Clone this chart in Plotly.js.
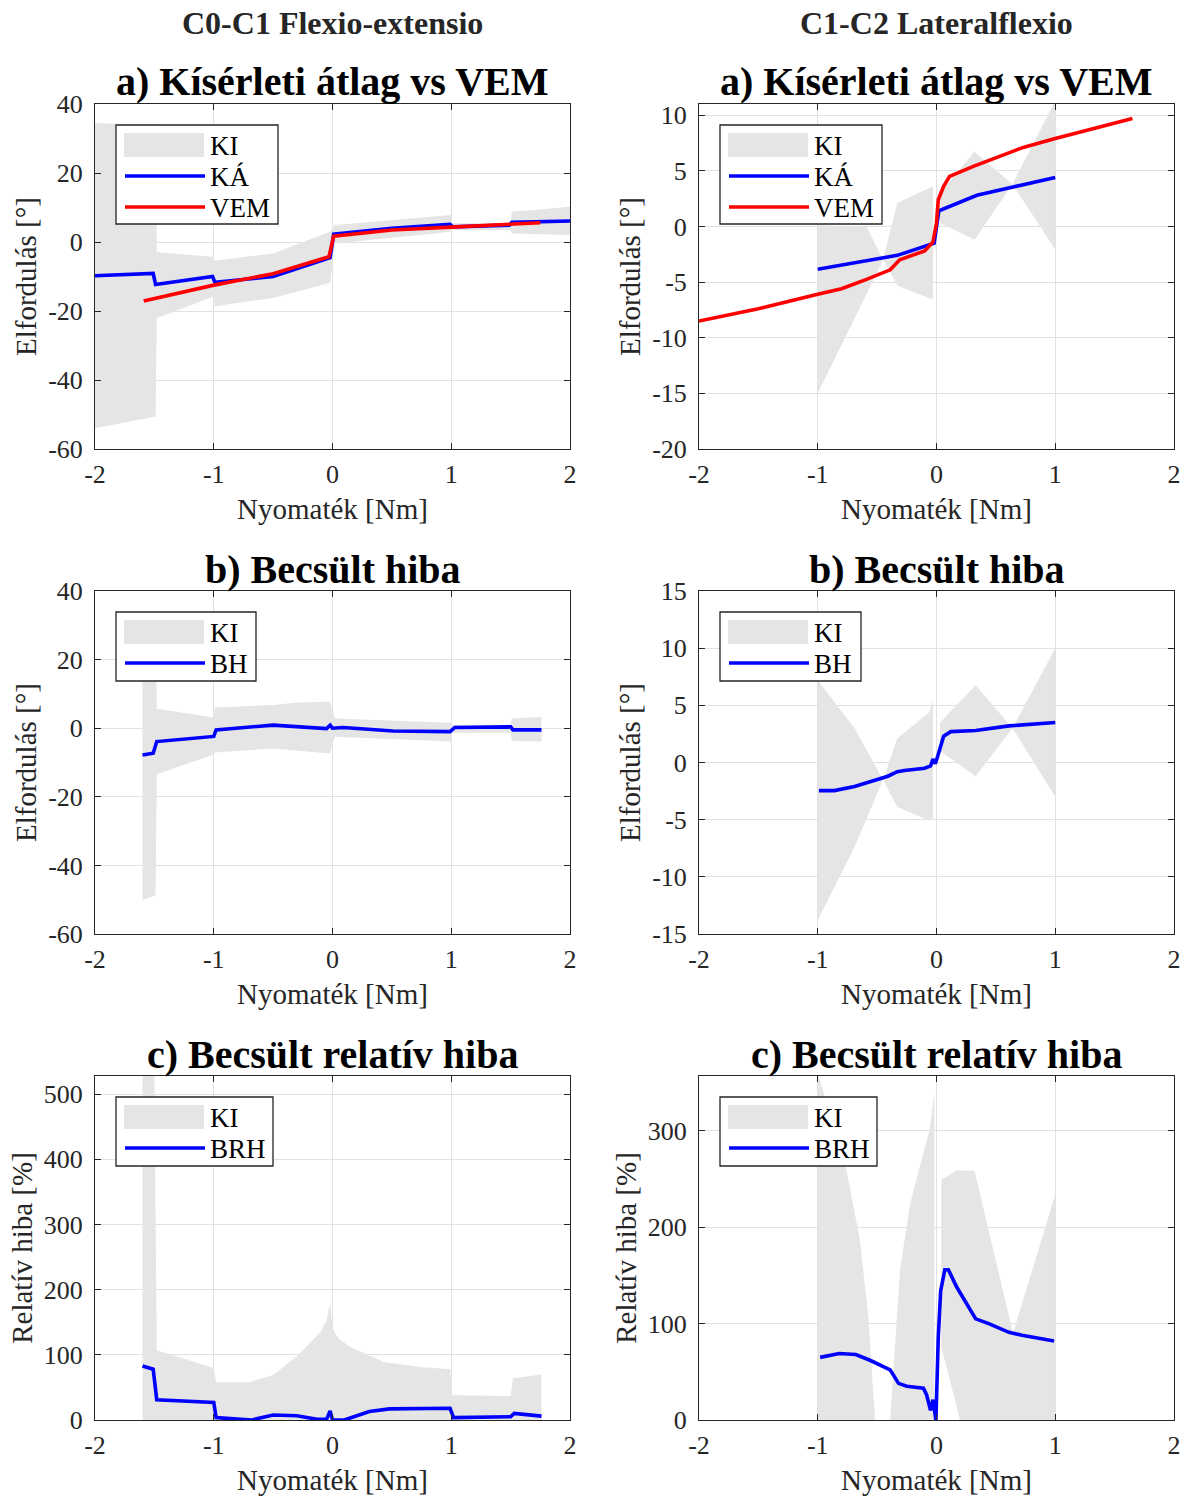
<!DOCTYPE html>
<html>
<head>
<meta charset="utf-8">
<script src="https://cdn.plot.ly/plotly-3.0.1.min.js"></script>
<style>html,body{margin:0;padding:0;background:#fff}#chart{width:1188px;height:1497px}</style>
</head>
<body>
<div id="chart"></div>
<script>
// ---------- DATA ----------
const xTickVals = [-2, -1, 0, 1, 2];
const xTickText = ['-2', '-1', '0', '1', '2'];

// Panel a) left : C0-C1 Flexio-extensio
const a1KiX  = [-2, -1.49, -1.48, -1.0, -0.99, -0.5, -0.02, 0.02, 1.0, 1.01, 1.5, 1.51, 2.0];
const a1KiUp = [34.4, 34, -3.0, -4.3, -5.4, -3.3, 3.0, 4.9, 7.8, 5.4, 5.4, 8.8, 10.2];
const a1KiLo = [-54, -50.6, -22.1, -15.8, -18.6, -16.2, -11.8, -0.4, 3.0, 3.5, 3.5, 2.5, 2.0];
const a1KaX  = [-2, -1.51, -1.49, -1.01, -0.99, -0.5, -0.02, 0.01, 0.5, 0.99, 1.01, 1.49, 1.51, 2.0];
const a1KaY  = [-9.8, -9.1, -12.3, -10.0, -11.7, -10.0, -4.5, 2.3, 4.0, 5.1, 4.4, 4.9, 5.7, 6.1];
const a1VemX = [-1.59, -1.0, -0.5, -0.03, 0.01, 0.5, 1.0, 1.75];
const a1VemY = [-17.1, -12.5, -9.2, -4.3, 1.7, 3.5, 4.3, 5.6];

// Panel a) right : C1-C2 Lateralflexio
const a2KiNegX  = [-1, -0.59, -0.45, -0.33, -0.03];
const a2KiNegUp = [0.1, 0.0, -3.0, 2.1, 3.6];
const a2KiNegLo = [-15, -6.1, -3.0, -5.3, -6.6];
const a2KiPosX  = [0.03, 0.32, 0.64, 1.0];
const a2KiPosUp = [3.0, 6.7, 3.8, 11.3];
const a2KiPosLo = [0.3, -1.2, 3.8, -2.1];
const a2KaX  = [-1, -0.33, -0.02, 0.02, 0.34, 1.0];
const a2KaY  = [-3.85, -2.6, -1.5, 1.4, 2.8, 4.4];
const a2VemX = [-2, -1.5, -1.0, -0.8, -0.6, -0.39, -0.31, -0.1, -0.03, 0.0, 0.015, 0.06, 0.11, 0.31, 0.73, 1.0, 1.65];
const a2VemY = [-8.5, -7.4, -6.1, -5.6, -4.8, -3.9, -3.0, -2.2, -1.4, 0.3, 2.4, 3.6, 4.5, 5.4, 7.1, 7.9, 9.7];

// Panel b) left
const b1KiX  = [-1.6, -1.49, -1.48, -1.0, -0.99, -0.5, -0.3, -0.02, 0.02, 1.0, 1.01, 1.5, 1.51, 1.76];
const b1KiUp = [30, 30, 5.7, 3.1, 6.0, 6.8, 7.5, 7.7, 2.8, 1.6, 1.0, 1.0, 2.8, 3.3];
const b1KiLo = [-50, -48.7, -13.4, -7.7, -7.1, -5.9, -6.5, -7.4, -2.5, -3.9, -1.3, -1.3, -3.7, -3.9];
const b1BhX  = [-1.6, -1.51, -1.48, -1.0, -0.98, -0.5, -0.05, -0.02, 0.0, 0.09, 0.51, 0.99, 1.03, 1.5, 1.52, 1.76];
const b1BhY  = [-7.8, -7.3, -3.9, -2.4, -0.5, 0.9, -0.1, 0.9, 0.0, 0.2, -0.8, -1.0, 0.2, 0.4, -0.5, -0.5];

// Panel b) right
const b2KiNegX  = [-1, -0.69, -0.45, -0.33, -0.06, -0.03];
const b2KiNegUp = [7.2, 3.0, -1.5, 2.1, 4.4, 5.4];
const b2KiNegLo = [-13.8, -7.4, -1.5, -3.9, -5.1, -4.9];
const b2KiPosX  = [0.03, 0.33, 0.64, 1.0];
const b2KiPosUp = [3.5, 6.75, 3.0, 10.0];
const b2KiPosLo = [1.0, -1.2, 3.0, -3.0];
const b2BhX = [-0.99, -0.86, -0.69, -0.5, -0.41, -0.33, -0.27, -0.1, -0.05, -0.03, -0.01, 0.0, 0.03, 0.06, 0.12, 0.33, 0.61, 1.0];
const b2BhY = [-2.46, -2.46, -2.1, -1.45, -1.2, -0.8, -0.7, -0.5, -0.3, 0.3, -0.1, 0.2, 1.3, 2.3, 2.7, 2.8, 3.2, 3.5];

// Panel c) left
const c1KiX  = [-1.6, -1.5, -1.48, -1.0, -0.98, -0.7, -0.5, -0.3, -0.19, -0.1, -0.05, -0.02, 0.0, 0.05, 0.15, 0.43, 0.76, 0.99, 1.01, 1.5, 1.52, 1.76];
const c1KiUp = [530, 530, 107, 80, 58, 58, 69, 98, 118, 135, 153, 179, 141, 125, 112, 89, 81, 78, 38, 37, 64, 70];
const c1KiLo = [0, 0, 0, 0, 0, 0, 0, 0, 0, 0, 0, 0, 0, 0, 0, 0, 0, 0, 0, 0, 0, 0];
const c1BrhX = [-1.6, -1.51, -1.48, -1.0, -0.98, -0.68, -0.5, -0.3, -0.13, -0.05, -0.02, 0.0, 0.1, 0.31, 0.48, 0.99, 1.02, 1.5, 1.53, 1.76];
const c1BrhY = [83, 78, 31, 27, 3.6, 0, 7.7, 6.6, 1, 1, 14, 0, 0, 13, 17, 18, 3.6, 5, 10, 6];

// Panel c) right
const c2KiNegX  = [-1, -0.756, -0.644, -0.574, -0.518, -0.39, -0.308, -0.223, -0.055, -0.018];
const c2KiNegUp = [360, 258, 186, 107, 0, -40, -60, -80, -110, -120];
const c2KiNegLo = [-200, -160, -140, -120, -100, 0, 155, 224, 303, 341];
const c2KiPosX  = [0.04, 0.08, 0.165, 0.198, 0.32, 0.644, 1.0];
const c2KiPosUp = [250, 252, 259, 259, 259, 90, 234];
const c2KiPosLo = [76, 57, 16, 0, -40, -120, -200];
const c2BrhX = [-0.98, -0.82, -0.68, -0.56, -0.39, -0.32, -0.25, -0.11, -0.083, -0.05, -0.03, -0.005, 0.015, 0.035, 0.07, 0.1, 0.17, 0.33, 0.44, 0.61, 0.72, 0.99];
const c2BrhY = [65, 69, 68, 62, 52, 38, 35, 33, 26, 10, 21, 0, 86, 134, 156, 156, 138, 105, 100, 91, 88, 82];

const colTitles = ['C0-C1 Flexio-extensio', 'C1-C2 Lateralflexio'];
const rowTitles = ['a) Kísérleti átlag vs VEM', 'b) Becsült hiba', 'c) Becsült relatív hiba'];
const xLabel = 'Nyomaték [Nm]';
const yLabels = ['Elfordulás [°]', 'Elfordulás [°]', 'Relatív hiba [%]'];

// ---------- STYLE / LAYOUT ----------
const W = 1188, H = 1497;
const FONT = '"Liberation Serif", "Times New Roman", serif';
const GRAY = '#e5e5e5', BLUE = '#0000ff', RED = '#ff0000';
const colPx = [[95, 570], [699, 1174]];
const rowPx = [[104, 449], [591, 934], [1076, 1420]];
const legendW = [[162, 162], [140, 141], [157, 157]];
const fx = p => p / W;
const fy = p => 1 - p / H;

function bandXY(segments) {
  const x = [], y = [];
  segments.forEach((s, i) => {
    const [sx, up, lo] = s;
    if (i > 0) { x.push(null); y.push(null); }
    x.push(...sx, ...sx.slice().reverse());
    y.push(...up, ...lo.slice().reverse());
  });
  return {x, y};
}

const panels = [
  {row: 0, col: 0, yr: [-60, 40], yt: [-60, -40, -20, 0, 20, 40],
   band: [[a1KiX, a1KiUp, a1KiLo]],
   lines: [{n: 'KÁ', x: a1KaX, y: a1KaY, c: BLUE}, {n: 'VEM', x: a1VemX, y: a1VemY, c: RED}]},
  {row: 0, col: 1, yr: [-20, 11], yt: [-20, -15, -10, -5, 0, 5, 10],
   band: [[a2KiNegX, a2KiNegUp, a2KiNegLo], [a2KiPosX, a2KiPosUp, a2KiPosLo]],
   lines: [{n: 'KÁ', x: a2KaX, y: a2KaY, c: BLUE}, {n: 'VEM', x: a2VemX, y: a2VemY, c: RED}]},
  {row: 1, col: 0, yr: [-60, 40], yt: [-60, -40, -20, 0, 20, 40],
   band: [[b1KiX, b1KiUp, b1KiLo]],
   lines: [{n: 'BH', x: b1BhX, y: b1BhY, c: BLUE}]},
  {row: 1, col: 1, yr: [-15, 15], yt: [-15, -10, -5, 0, 5, 10, 15],
   band: [[b2KiNegX, b2KiNegUp, b2KiNegLo], [b2KiPosX, b2KiPosUp, b2KiPosLo]],
   lines: [{n: 'BH', x: b2BhX, y: b2BhY, c: BLUE}]},
  {row: 2, col: 0, yr: [0, 528], yt: [0, 100, 200, 300, 400, 500],
   band: [[c1KiX, c1KiUp, c1KiLo]],
   lines: [{n: 'BRH', x: c1BrhX, y: c1BrhY, c: BLUE}]},
  {row: 2, col: 1, yr: [0, 357], yt: [0, 100, 200, 300],
   band: [[c2KiNegX, c2KiNegUp, c2KiNegLo], [c2KiPosX, c2KiPosUp, c2KiPosLo]],
   lines: [{n: 'BRH', x: c2BrhX, y: c2BrhY, c: BLUE}]}
];

const traces = [];
const layout = {
  width: W, height: H,
  margin: {l: 0, r: 0, t: 0, b: 0},
  paper_bgcolor: '#fff', plot_bgcolor: '#fff',
  font: {family: FONT, color: '#262626'},
  showlegend: false,
  hovermode: false,
  annotations: [],
  shapes: []
};

panels.forEach((p, i) => {
  const k = i + 1;
  const xa = 'xaxis' + (k === 1 ? '' : k), ya = 'yaxis' + (k === 1 ? '' : k);
  const xr = 'x' + (k === 1 ? '' : k), yr = 'y' + (k === 1 ? '' : k);
  const cp = colPx[p.col], rp = rowPx[p.row];
  const common = {
    showline: true, linecolor: '#262626', linewidth: 1, mirror: 'ticks',
    ticks: 'inside', ticklen: 6, tickcolor: '#262626', tickwidth: 1,
    showgrid: true, gridcolor: '#e1e1e1', gridwidth: 1, zeroline: false,
    tickfont: {family: FONT, size: 26, color: '#262626'}, fixedrange: true
  };
  layout[xa] = Object.assign({}, common, {
    domain: [fx(cp[0]), fx(cp[1])], anchor: yr, range: [-2, 2],
    tickvals: xTickVals, ticktext: xTickText, ticklabelstandoff: 2,
    title: {text: xLabel, font: {family: FONT, size: 29, color: '#262626'}, standoff: 10}
  });
  layout[ya] = Object.assign({}, common, {
    domain: [fy(rp[1]), fy(rp[0])], anchor: xr, range: p.yr,
    tickvals: p.yt, ticktext: p.yt.map(v => String(v)), ticklabelstandoff: 6,
    title: {text: yLabels[p.row], font: {family: FONT, size: 29, color: '#262626'}, standoff: 2}
  });
  const b = bandXY(p.band);
  traces.push({type: 'scatter', mode: 'lines', x: b.x, y: b.y, xaxis: xr, yaxis: yr,
    fill: 'toself', fillcolor: GRAY, line: {width: 0, color: GRAY}, name: 'KI',
    hoverinfo: 'skip'});
  p.lines.forEach(l => {
    traces.push({type: 'scatter', mode: 'lines', x: l.x, y: l.y, xaxis: xr, yaxis: yr,
      line: {color: l.c, width: 3.6}, name: l.n, hoverinfo: 'skip'});
  });

  // legend box (MATLAB style)
  const L = cp[0] + 21, T = rp[0] + 21;
  const items = [{n: 'KI', patch: true}].concat(p.lines.map(l => ({n: l.n, c: l.c})));
  const bh = items.length === 3 ? 99 : 69;
  const bw = legendW[p.row][p.col];
  layout.shapes.push({type: 'rect', xref: 'paper', yref: 'paper', x0: fx(L), x1: fx(L + bw),
    y0: fy(T), y1: fy(T + bh), line: {color: '#262626', width: 1.3}, fillcolor: '#fff', layer: 'above'});
  items.forEach((it, j) => {
    const cy = T + 20 + 31 * j;
    if (it.patch) {
      layout.shapes.push({type: 'rect', xref: 'paper', yref: 'paper', x0: fx(L + 8), x1: fx(L + 88),
        y0: fy(cy - 12), y1: fy(cy + 12), line: {width: 0}, fillcolor: GRAY, layer: 'above'});
    } else {
      layout.shapes.push({type: 'line', xref: 'paper', yref: 'paper', x0: fx(L + 9), x1: fx(L + 89),
        y0: fy(cy), y1: fy(cy), line: {color: it.c, width: 3.6}, layer: 'above'});
    }
    layout.annotations.push({text: it.n, xref: 'paper', yref: 'paper', x: fx(L + 92), y: fy(cy + 1),
      xanchor: 'left', yanchor: 'middle', showarrow: false,
      font: {family: FONT, size: 27, color: '#000'}});
  });

  // subplot title
  layout.annotations.push({text: '<b>' + rowTitles[p.row] + '</b>', xref: 'paper', yref: 'paper',
    x: fx((cp[0] + cp[1]) / 2), y: fy(rp[0] - 22), xanchor: 'center', yanchor: 'middle',
    showarrow: false, font: {family: FONT, size: 40, color: '#000'}});
});
colTitles.forEach((t, c) => {
  layout.annotations.push({text: '<b>' + t + '</b>', xref: 'paper', yref: 'paper',
    x: fx((colPx[c][0] + colPx[c][1]) / 2), y: fy(23), xanchor: 'center', yanchor: 'middle',
    showarrow: false, font: {family: FONT, size: 32, color: '#262626'}});
});

Plotly.newPlot('chart', traces, layout, {displayModeBar: false, staticPlot: true});
</script>
</body>
</html>
